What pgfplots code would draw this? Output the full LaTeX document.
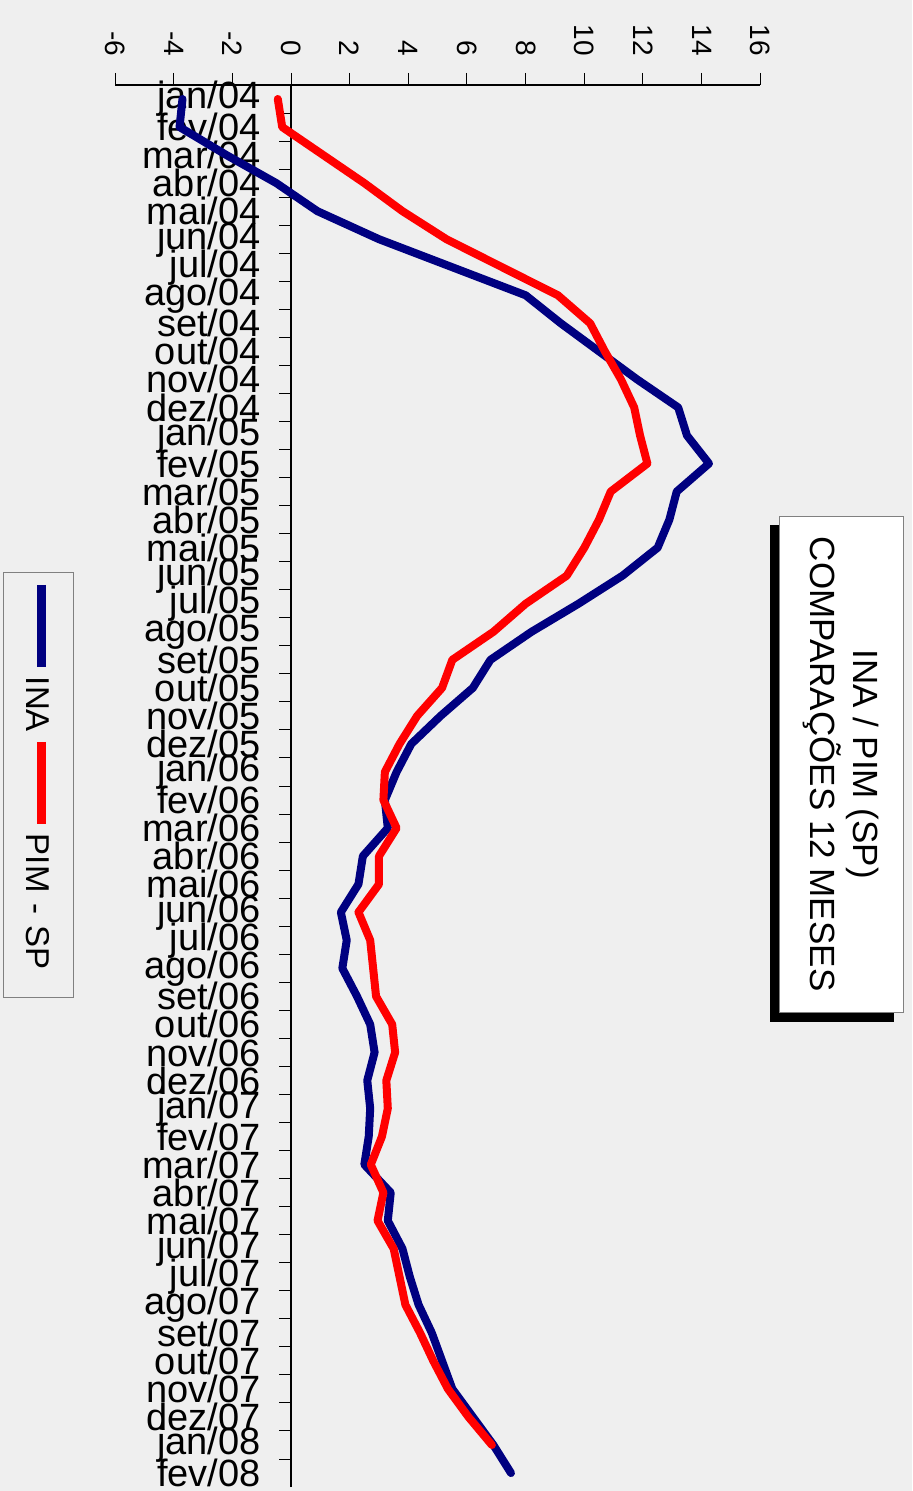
\documentclass[border=0pt]{standalone}
\usepackage{pgfplots}
\pgfplotsset{compat=1.18}
\usepackage{pgfplotstable}
\usepackage{fontspec}
\setmainfont{Liberation Sans}
\usetikzlibrary{backgrounds,fit}
\definecolor{inablue}{RGB}{0,0,128}
\definecolor{bggray}{RGB}{239,239,239}

% n = -(month index), values in %
\pgfplotstableread{
n   ina   pim
0   -3.7  -0.45
-1  -3.8  -0.3
-2  -2.2  1.1
-3  -0.5  2.5
-4  0.9   3.8
-5  3.0   5.3
-6  5.5   7.2
-7  8.0   9.1
-8  9.2   10.2
-9  10.5  10.7
-10 11.8  11.25
-11 13.2  11.7
-12 13.5  11.9
-13 14.25 12.15
-14 13.15 10.9
-15 12.9  10.5
-16 12.5  10.0
-17 11.3  9.4
-18 9.8   8.0
-19 8.2   6.9
-20 6.8   5.5
-21 6.2   5.15
-22 5.1   4.3
-23 4.1   3.7
-24 3.6   3.2
-25 3.2   3.15
-26 3.3   3.6
-27 2.45  3.0
-28 2.3   3.0
-29 1.7   2.3
-30 1.9   2.7
-31 1.75  2.8
-32 2.25  2.9
-33 2.7   3.45
-34 2.85  3.55
-35 2.6   3.25
-36 2.7   3.3
-37 2.65  3.1
-38 2.5   2.72
-39 3.4   3.15
-40 3.3   2.95
-41 3.8   3.5
-42 4.05  3.7
-43 4.35  3.9
-44 4.8   4.4
-45 5.15  4.85
-46 5.5   5.35
-47 6.2   6.05
-48 6.9   6.85
-49 7.5   nan
}\data

\begin{document}
\begin{tikzpicture}
\begin{axis}[
    x=14.665pt, y=14.02pt,
    xmin=-6, xmax=16, ymin=-49.5, ymax=0.5,
    axis x line=top, axis y line=middle,
    axis line style={-, black, line width=0.6pt},
    clip=false,
    tick align=outside,
    major tick length=6pt, minor tick length=6pt,
    xtick={-6,-4,...,16},
    hide obscured x ticks=false,
    /pgf/number format/assume math mode=true,
    xticklabel style={font=\fontsize{14}{14}\selectfont, rotate=-90, anchor=east},
    xticklabel shift=5pt,
    ytick={0,-1,...,-49},
    yticklabels={jan/04,fev/04,mar/04,abr/04,mai/04,jun/04,jul/04,ago/04,set/04,out/04,nov/04,dez/04,
                 jan/05,fev/05,mar/05,abr/05,mai/05,jun/05,jul/05,ago/05,set/05,out/05,nov/05,dez/05,
                 jan/06,fev/06,mar/06,abr/06,mai/06,jun/06,jul/06,ago/06,set/06,out/06,nov/06,dez/06,
                 jan/07,fev/07,mar/07,abr/07,mai/07,jun/07,jul/07,ago/07,set/07,out/07,nov/07,dez/07,
                 jan/08,fev/08},
    yticklabel style={font=\fontsize{19}{19}\selectfont, anchor=east, xshift=-9pt, inner sep=0pt},
    every major y tick/.append style={draw=none},
    minor ytick={-0.5,-1.5,...,-48.5},
    every tick/.append style={black, line width=0.5pt},
]
\addplot[inablue, line width=4pt, line join=round, line cap=round] table[x=ina, y=n] {\data};
\addplot[red, line width=4pt, line join=round, line cap=round] table[x=pim, y=n] {\data};

% legend, turned like the rest of the chart
\node[rotate=-90, draw=gray, fill=bggray, font=\fontsize{16.5}{16.5}\selectfont,
      text width=200pt, align=left, inner xsep=6pt, minimum height=35pt]
      at (axis cs:-8.625,-24.46)
      {\textcolor{inablue}{\rule[0.3em]{41pt}{4.5pt}}\hspace{5pt}INA\hspace{5pt}%
       \textcolor{red}{\rule[0.3em]{41pt}{4.5pt}}\hspace{5pt}PIM - SP};

\node[rotate=-90, draw=gray, fill=white, align=center,
      font=\fontsize{17.5}{21.5}\selectfont,
      minimum width=248pt, minimum height=62pt] (T) at (axis cs:18.75,-23.72)
      {INA / PIM (SP)\\COMPARAÇÕES 12 MESES};

\coordinate (bl) at (axis cs:-9.921,-49.64);
\coordinate (tr) at (axis cs:21.174,3.531);
\end{axis}
\begin{scope}[on background layer]
  \fill[bggray] (bl) rectangle (tr);
  \node[fit=(T), inner sep=0pt, fill=black, xshift=-4.5pt, yshift=-4.5pt] {};
\end{scope}
\pgfresetboundingbox
\path[use as bounding box] (bl) rectangle (tr);
\end{tikzpicture}
\end{document}
